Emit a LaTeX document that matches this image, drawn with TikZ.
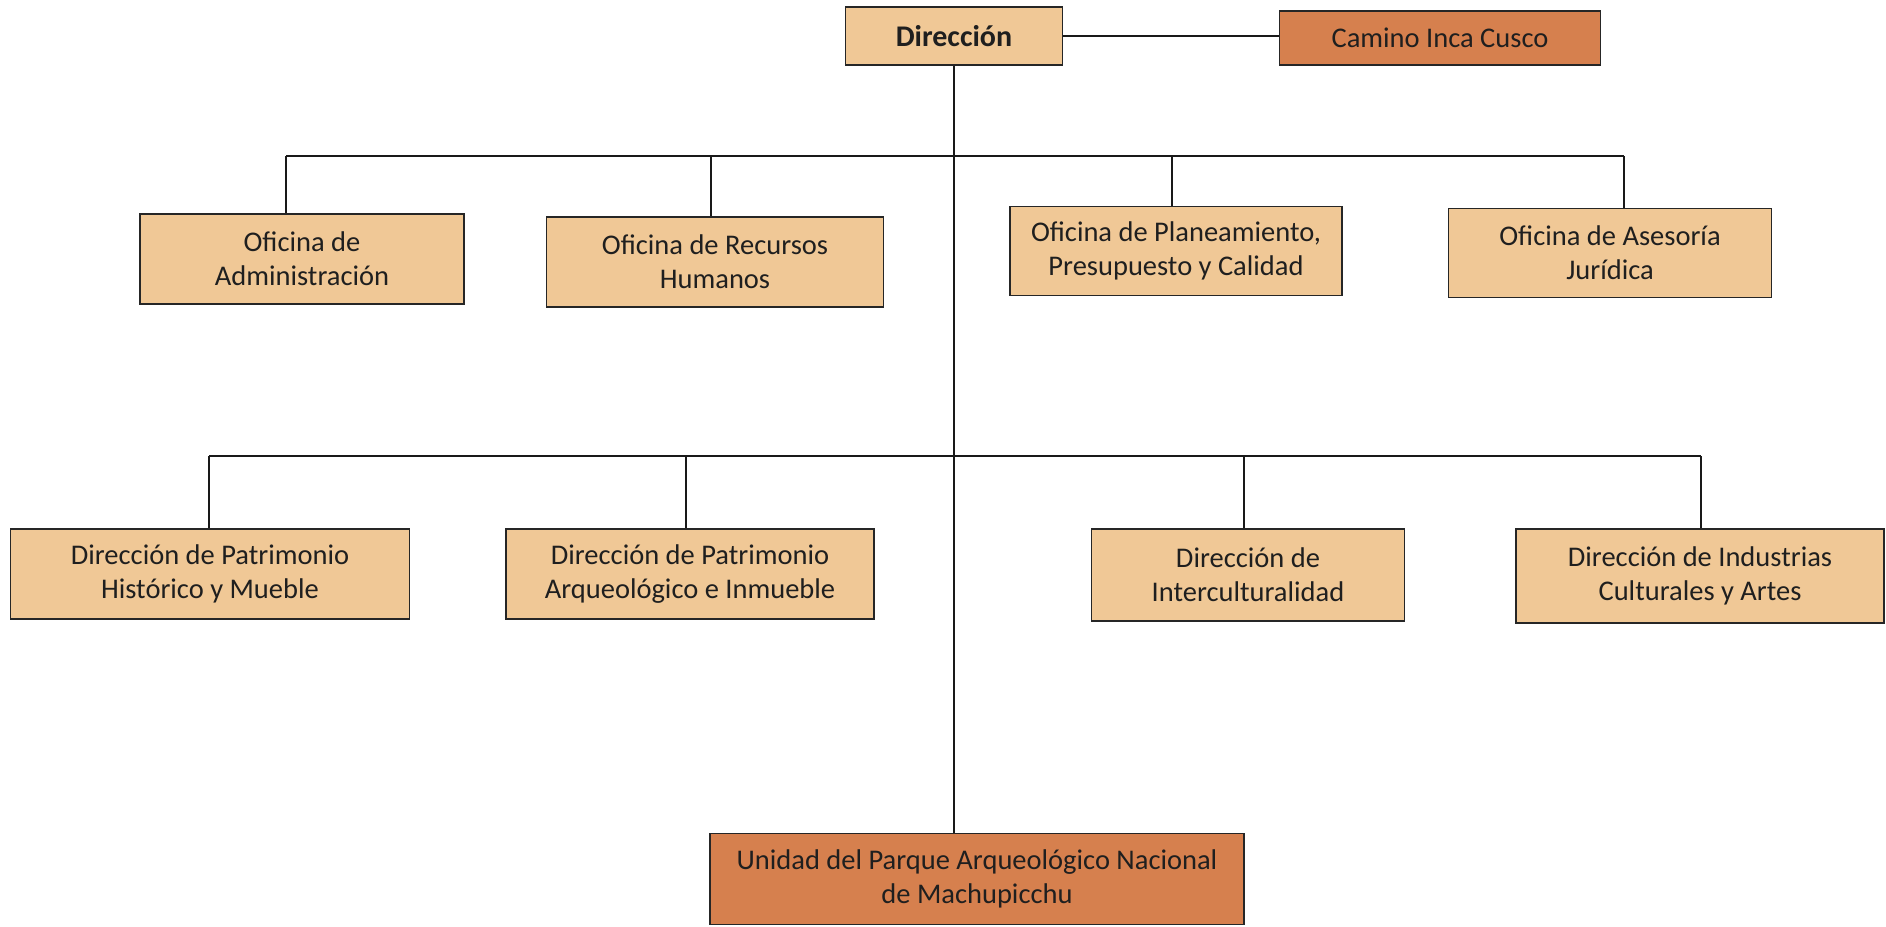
\documentclass[tikz,border=0pt]{standalone}
\usepackage{fontspec}
\setmainfont{Carlito}
\begin{document}
\begin{tikzpicture}[x=1pt,y=-1pt,
  every node/.style={font=\fontsize{28.5}{34}\selectfont, text=black!88},
  unitbox/.style={draw=black!85, line width=1.6pt, fill=tanfill, align=center, inner sep=0pt},
  darkbox/.style={unitbox, fill=rustfill},
  link/.style={draw=black!90, line width=1.6pt}]
\definecolor{tanfill}{RGB}{240,200,150}
\definecolor{rustfill}{RGB}{214,128,78}
\useasboundingbox[fill=white] (0,0) rectangle (1886,926);

% top level
\node[unitbox, minimum width=217, minimum height=58, font=\fontsize{30}{34}\selectfont\bfseries] (dir) at (954,36) {Dirección};
\node[darkbox, minimum width=321, minimum height=54] (cam) at (1440,38) {Camino Inca Cusco};

% staff offices
\node[unitbox, minimum width=324, minimum height=90] (adm) at (302,259) {Oficina de\\Administración};
\node[unitbox, minimum width=337, minimum height=90] (rrhh) at (715,262) {Oficina de Recursos\\Humanos};
\node[unitbox, minimum width=332, minimum height=89] (plan) at (1176,251) {Oficina de Planeamiento,\\Presupuesto y Calidad};
\node[unitbox, minimum width=323, minimum height=89] (ases) at (1610,253) {Oficina de Asesoría\\Jurídica};

% line directorates
\node[unitbox, minimum width=399, minimum height=90] (dph) at (210,574) {Dirección de Patrimonio\\Histórico y Mueble};
\node[unitbox, minimum width=368, minimum height=90] (dpa) at (690,574) {Dirección de Patrimonio\\Arqueológico e Inmueble};
\node[unitbox, minimum width=313, minimum height=92] (dint) at (1248,575) {Dirección de\\Interculturalidad};
\node[unitbox, minimum width=368, minimum height=94] (dind) at (1700,576) {Dirección de Industrias\\Culturales y Artes};

% park unit
\node[darkbox, minimum width=534, minimum height=91] (uni) at (977,879) {Unidad del Parque Arqueológico Nacional\\de Machupicchu};

% bus junctions
\coordinate (a1) at (286,156);
\coordinate (a2) at (711,156);
\coordinate (a3) at (1172,156);
\coordinate (a4) at (1624,156);
\coordinate (b1) at (209,456);
\coordinate (b2) at (686,456);
\coordinate (b3) at (1244,456);
\coordinate (b4) at (1701,456);

% connectors
\draw[link] (dir.east) -- (dir.east -| cam.west);
\draw[link] (dir.south) -- (dir.south |- uni.north);
\draw[link] (a1) -- (a4);
\draw[link] (b1) -- (b4);
\draw[link] (a1) -- (a1 |- adm.north);
\draw[link] (a2) -- (a2 |- rrhh.north);
\draw[link] (a3) -- (a3 |- plan.north);
\draw[link] (a4) -- (a4 |- ases.north);
\draw[link] (b1) -- (b1 |- dph.north);
\draw[link] (b2) -- (b2 |- dpa.north);
\draw[link] (b3) -- (b3 |- dint.north);
\draw[link] (b4) -- (b4 |- dind.north);
\end{tikzpicture}
\end{document}
